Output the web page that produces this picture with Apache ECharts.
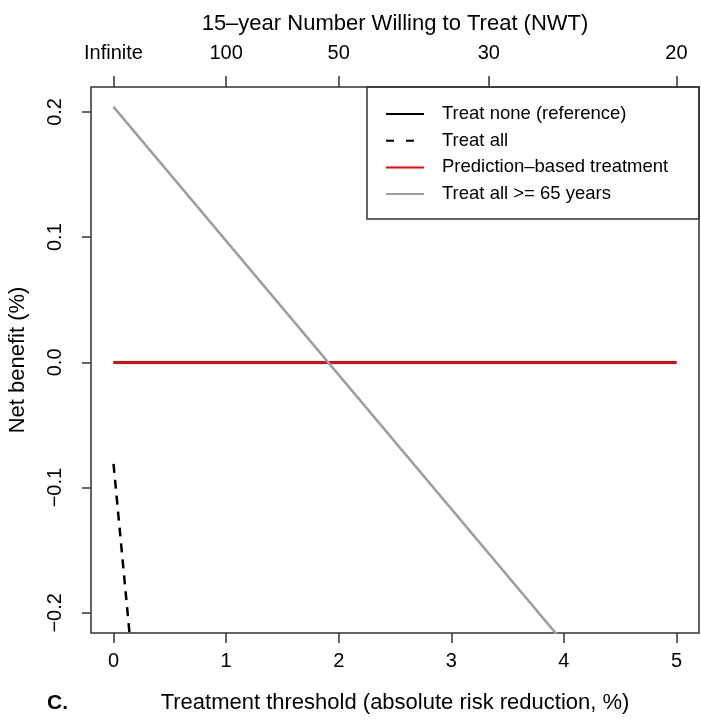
<!DOCTYPE html>
<html>
<head>
<meta charset="utf-8">
<script src="https://cdn.jsdelivr.net/npm/echarts@6/dist/echarts.min.js"></script>
<style>html,body{margin:0;padding:0;background:#fff;}#chart{width:701px;height:720px;}</style>
</head>
<body>
<div id="chart"></div>
<script>
// ---- data ----
const thresholdX = [0, 1, 2, 3, 4, 5];
const treatNone = [0, 0, 0, 0, 0, 0];
const predictionBased = [0, 0, 0, 0, 0, 0];
const treatAll65 = [0.204, 0.097, -0.010, -0.117, -0.224, -0.331];
const treatAllX = [0, 0.25];
const treatAll = [-0.081, -0.319];

const xTicks = [0, 1, 2, 3, 4, 5];
const nwtTicks = [0, 1, 2, 10 / 3, 5];
const nwtLabels = ['Infinite', '100', '50', '30', '20'];
const yTicks = [-0.2, -0.1, 0, 0.1, 0.2];
const yLabels = ['\u22120.2', '\u22120.1', '0.0', '0.1', '0.2'];

const seriesNames = ['Treat none (reference)', 'Treat all', 'Prediction\u2013based treatment', 'Treat all >= 65 years'];

function pairs(xs, ys) { return xs.map((x, i) => [x, ys[i]]); }
function nearestLabel(ticks, labels, v) {
  let best = 0;
  ticks.forEach((t, i) => { if (Math.abs(t - v) < Math.abs(ticks[best] - v)) best = i; });
  return labels[best];
}

const FONT = '"Liberation Sans", Arial, Helvetica, sans-serif';
const AX = '#333';

const chart = echarts.init(document.getElementById('chart'), null, { renderer: 'canvas' });

const option = {
  backgroundColor: '#fff',
  animation: false,
  grid: { left: 91, right: 2, top: 87, bottom: 87, show: true, borderColor: AX, borderWidth: 1.5, backgroundColor: 'transparent' },
  xAxis: [
    {
      type: 'value', position: 'bottom', min: -0.2, max: 5.2,
      axisLine: { show: false, onZero: false },
      splitLine: { show: false },
      axisTick: { show: true, inside: false, length: 10, lineStyle: { color: AX, width: 1.5 }, customValues: xTicks },
      axisLabel: { show: true, margin: 18, fontSize: 20, fontFamily: FONT, color: '#000', customValues: xTicks, formatter: v => String(Math.round(v)) }
    },
    {
      type: 'value', position: 'top', min: -0.2, max: 5.2,
      axisLine: { show: false, onZero: false },
      splitLine: { show: false },
      axisTick: { show: true, inside: false, length: 11, lineStyle: { color: AX, width: 1.5 }, customValues: nwtTicks },
      axisLabel: { show: true, margin: 24, fontSize: 20, fontFamily: FONT, color: '#000', customValues: nwtTicks,
        formatter: v => nearestLabel(nwtTicks, nwtLabels, v) }
    }
  ],
  yAxis: {
    type: 'value', min: -0.2161, max: 0.2199, position: 'left',
    axisLine: { show: false, onZero: false },
    splitLine: { show: false },
    axisTick: { show: true, inside: false, length: 9, lineStyle: { color: AX, width: 1.5 }, customValues: yTicks },
    axisLabel: { show: true, rotate: 90, margin: 26, fontSize: 20, fontFamily: FONT, color: '#000', customValues: yTicks,
      formatter: v => nearestLabel(yTicks, yLabels, v) }
  },
  legend: {
    orient: 'vertical', left: 385, top: 104, padding: 0,
    itemWidth: 38, itemHeight: 20, itemGap: 6.7,
    itemStyle: { opacity: 0 },
    textStyle: { fontSize: 18.5, fontFamily: FONT, color: '#000', lineHeight: 20, padding: [0, 0, 0, 13] },
    data: [
      { name: seriesNames[0] },
      { name: seriesNames[1], lineStyle: { type: [8, 12] } },
      { name: seriesNames[2] },
      { name: seriesNames[3] }
    ]
  },
  graphic: [
    { type: 'rect', z: 100, shape: { x: 367, y: 87, width: 332, height: 132 }, style: { fill: 'transparent', stroke: AX, lineWidth: 1.5 } },
    { type: 'text', z: 100, style: { text: '15\u2013year Number Willing to Treat (NWT)', x: 395, y: 24, align: 'center', verticalAlign: 'middle', font: '22px ' + FONT, fill: '#000' } },
    { type: 'text', z: 100, style: { text: 'Treatment threshold (absolute risk reduction, %)', x: 395, y: 703, align: 'center', verticalAlign: 'middle', font: '22px ' + FONT, fill: '#000' } },
    { type: 'text', z: 100, style: { text: 'C.', x: 47, y: 703, align: 'left', verticalAlign: 'middle', font: 'bold 21px ' + FONT, fill: '#000' } },
    { type: 'text', z: 100, x: 18, y: 360, rotation: Math.PI / 2, style: { text: 'Net benefit (%)', x: 0, y: 0, align: 'center', verticalAlign: 'middle', font: '22px ' + FONT, fill: '#000' } }
  ],
  series: [
    { name: seriesNames[0], type: 'line', xAxisIndex: 0, data: pairs(thresholdX, treatNone), symbol: 'none', clip: true,
      lineStyle: { color: '#000', width: 2.5, type: 'solid' }, itemStyle: { color: '#000' } },
    { name: seriesNames[1], type: 'line', xAxisIndex: 0, data: pairs(treatAllX, treatAll), symbol: 'none', clip: true,
      lineStyle: { color: '#000', width: 2.5, type: [9, 7] }, itemStyle: { color: '#000' } },
    { name: seriesNames[2], type: 'line', xAxisIndex: 0, data: pairs(thresholdX, predictionBased), symbol: 'none', clip: true,
      lineStyle: { color: '#ff0000', width: 2.5, type: 'solid' }, itemStyle: { color: '#ff0000' } },
    { name: seriesNames[3], type: 'line', xAxisIndex: 0, data: pairs(thresholdX, treatAll65), symbol: 'none', clip: true,
      lineStyle: { color: '#9e9e9e', width: 2.5, type: 'solid' }, itemStyle: { color: '#9e9e9e' } }
  ]
};
chart.setOption(option);
</script>
</body>
</html>
